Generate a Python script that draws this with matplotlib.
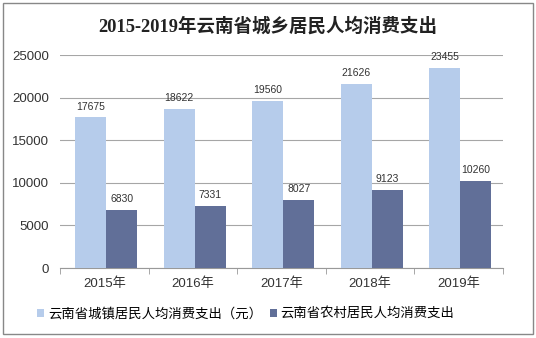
import numpy as np
import matplotlib.pyplot as plt
from matplotlib.patches import Rectangle

plt.rcParams['font.family'] = ['Liberation Sans', 'Noto Sans CJK SC']

years = ['2015年', '2016年', '2017年', '2018年', '2019年']
urban = [17675, 18622, 19560, 21626, 23455]
rural = [6830, 7331, 8027, 9123, 10260]
urban_label = '云南省城镇居民人均消费支出（元）'
rural_label = '云南省农村居民人均消费支出'

c_urban = '#b6cceb'
c_rural = '#616f98'

fig = plt.figure(figsize=(5.36, 3.38), dpi=100)
ax = fig.add_axes([0.112, 0.207, 0.826, 0.63])

x = np.arange(len(years))
w = 0.35
b1 = ax.bar(x - w / 2 + 0.02, urban, w, color=c_urban, label=urban_label, zorder=3)
b2 = ax.bar(x + w / 2 + 0.02, rural, w, color=c_rural, label=rural_label, zorder=3)

for bars in (b1, b2):
    for r in bars:
        ax.text(r.get_x() + r.get_width() / 2, r.get_height() + 700,
                f'{int(r.get_height())}', ha='center', va='bottom',
                fontsize=7.5, color='#333333', zorder=4)

ax.set_xlim(-0.5, len(years) - 0.5)
ax.set_ylim(0, 25000)
ax.set_yticks(range(0, 25001, 5000))
ax.yaxis.grid(True, color='#a6a6a6', linewidth=0.8, zorder=0)
ax.tick_params(axis='y', length=0, labelsize=9.5, pad=8, colors='#333333')

ax.set_xticks(x)
ax.set_xticklabels(years, fontsize=9.5, color='#333333')
ax.set_xticks(np.arange(-0.5, len(years)), minor=True)
ax.tick_params(axis='x', which='major', length=0, pad=7)
ax.tick_params(axis='x', which='minor', length=4, color='#999999')

for s in ('top', 'right', 'left'):
    ax.spines[s].set_visible(False)
ax.spines['bottom'].set_color('#999999')

fig.suptitle('2015-2019年云南省城乡居民人均消费支出', y=0.95, fontsize=13.3,
             fontweight='bold', family=['Liberation Serif', 'Noto Sans CJK SC'],
             color='#222222')

ax.legend(loc='upper center', bbox_to_anchor=(0.42, -0.13), ncol=2, frameon=False,
          fontsize=9.6, handlelength=0.5, handleheight=0.5, handletextpad=0.3,
          columnspacing=0.6)

# outer frame
fig.patches.append(Rectangle((0.006, 0.012), 0.988, 0.978, transform=fig.transFigure,
                             fill=False, edgecolor='#888888', linewidth=1))

fig.savefig('out.png', dpi=100)
